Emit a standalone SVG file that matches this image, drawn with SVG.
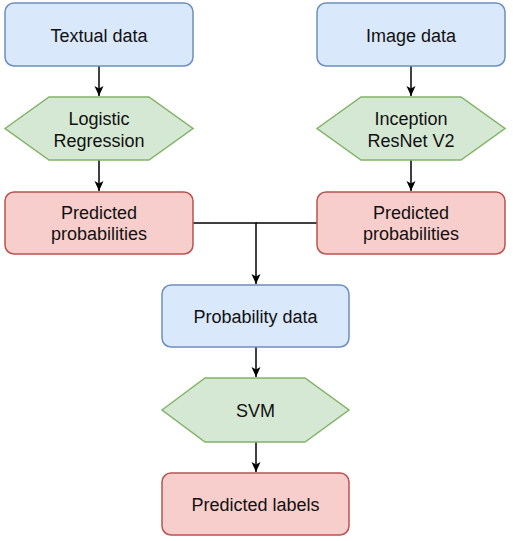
<svg xmlns="http://www.w3.org/2000/svg" width="513" height="541" viewBox="0 0 513 541">
<style>
.blue{fill:#dae8fc;stroke:#6c8ebf;stroke-width:1.5}
.green{fill:#d5e8d4;stroke:#82b366;stroke-width:1.5}
.red{fill:#f8cecc;stroke:#b85450;stroke-width:1.5}
text{font-family:"Liberation Sans",Arial,sans-serif;font-size:18px;fill:#111;text-anchor:middle}
.edge{fill:none;stroke:#000;stroke-width:1.5}
</style>
<defs>
<marker id="arr" markerWidth="12" markerHeight="12" refX="11" refY="6" orient="auto" markerUnits="userSpaceOnUse">
<path d="M1,1.5 L11,6 L1,10.5 L3.5,6 Z" fill="#000"/>
</marker>
</defs>
<rect width="513" height="541" fill="#fff"/>
<g id="connectors">
<path class="edge" d="M99,66 V96" marker-end="url(#arr)"/>
<path class="edge" d="M99,160 V191" marker-end="url(#arr)"/>
<path class="edge" d="M411,66 V96" marker-end="url(#arr)"/>
<path class="edge" d="M411,160 V191" marker-end="url(#arr)"/>
<path class="edge" d="M193,223 H256 V284" marker-end="url(#arr)"/>
<path class="edge" d="M317,223 H256"/>
<path class="edge" d="M256,347 V377" marker-end="url(#arr)"/>
<path class="edge" d="M256,442 V472" marker-end="url(#arr)"/>
</g>
<g id="textual-data"><rect class="blue" x="5" y="3" width="188" height="63" rx="9"/><text x="99" y="42">Textual data</text></g>
<g id="logistic-regression"><polygon class="green" points="5,128.5 49,97 149,97 193,128.5 149,160 49,160"/><text x="99" y="125">Logistic</text><text x="99" y="146.5">Regression</text></g>
<g id="pred-prob-left"><rect class="red" x="5" y="192" width="188" height="62" rx="9"/><text x="99" y="218.5">Predicted</text><text x="99" y="240">probabilities</text></g>
<g id="image-data"><rect class="blue" x="317" y="3" width="188" height="63" rx="9"/><text x="411" y="42">Image data</text></g>
<g id="inception"><polygon class="green" points="317,128.5 361,97 461,97 505,128.5 461,160 361,160"/><text x="411" y="125">Inception</text><text x="411" y="146.5">ResNet V2</text></g>
<g id="pred-prob-right"><rect class="red" x="317" y="192" width="188" height="62" rx="9"/><text x="411" y="218.5">Predicted</text><text x="411" y="240">probabilities</text></g>
<g id="probability-data"><rect class="blue" x="162" y="285" width="187" height="62" rx="9"/><text x="255.5" y="323">Probability data</text></g>
<g id="svm"><polygon class="green" points="162,410 205,378 305,378 349,410 305,442 205,442"/><text x="255.5" y="417">SVM</text></g>
<g id="predicted-labels"><rect class="red" x="162" y="473" width="187" height="62" rx="9"/><text x="255.5" y="511">Predicted labels</text></g>
</svg>
